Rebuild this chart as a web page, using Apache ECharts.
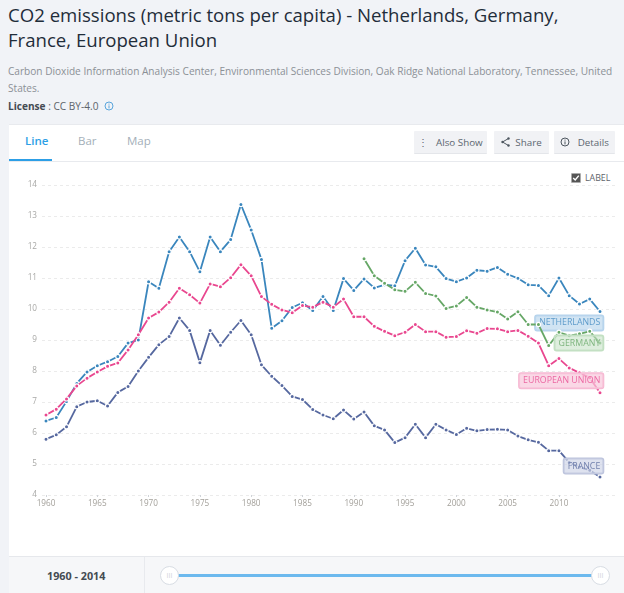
<!DOCTYPE html>
<html><head><meta charset="utf-8">
<script src="https://cdn.jsdelivr.net/npm/echarts@6/dist/echarts.min.js"></script>
<style>
html,body{margin:0;padding:0;width:624px;height:593px;overflow:hidden;background:#f1f3f7;font-family:"Open Sans",sans-serif}
.a{position:absolute;white-space:nowrap}
#chart{position:absolute;left:0;top:0;width:624px;height:593px}
.btn{position:absolute;top:131px;height:23px;line-height:23px;background:#f1f2f5;border-bottom:1px solid #e4e6ea;color:#5c6670;font-size:9.8px;text-align:center;border-radius:1px;box-sizing:border-box}
</style></head><body>
<div class="a" style="left:8px;top:2px;font-size:18.6px;line-height:25px;color:#1f2d3a">CO2 emissions (metric tons per capita) - Netherlands, Germany,<br>France, European Union</div>
<div class="a" style="left:8px;top:63px;font-size:10.1px;line-height:17px;color:#8b9096">Carbon Dioxide Information Analysis Center, Environmental Sciences Division, Oak Ridge National Laboratory, Tennessee, United<br>States.</div>
<div class="a" style="left:8px;top:99px;font-size:10.1px;line-height:15px;color:#5d646b"><b style="color:#444b52">License</b> : CC BY-4.0 &nbsp;<svg width="10" height="10" viewBox="0 0 10 10" style="vertical-align:-1px"><circle cx="5" cy="5" r="4" fill="none" stroke="#5aa5dc" stroke-width="1"/><path d="M5 4.4V7.4M5 2.6V3.6" stroke="#5aa5dc"/></svg></div>
<div class="a" style="left:9px;top:124px;width:615px;height:469px;background:#fff;border-top:1px solid #e8eaee;box-sizing:border-box"></div>
<div class="a" style="left:9px;top:161px;width:615px;height:1px;background:#e8eaee"></div>
<div class="a" style="left:9px;top:159px;width:43px;height:2px;background:#2d9fe6"></div>
<div class="a" style="left:25px;top:133px;font-size:11.5px;line-height:16px;color:#2d9fe6;font-weight:600">Line</div>
<div class="a" style="left:78px;top:133px;font-size:11.5px;line-height:16px;color:#a4afb9">Bar</div>
<div class="a" style="left:127px;top:133px;font-size:11.5px;line-height:16px;color:#a4afb9">Map</div>
<div class="btn" style="left:414px;width:73px">⋮ &nbsp;&nbsp;Also Show</div>
<div class="btn" style="left:494px;width:55px"><svg width="9" height="10" viewBox="0 0 9 10" style="vertical-align:-1px"><path d="M7.5 1.5L1.5 5L7.5 8.5" fill="none" stroke="#4d565f"/><circle cx="7.5" cy="1.5" r="1.2" fill="#4d565f"/><circle cx="1.5" cy="5" r="1.2" fill="#4d565f"/><circle cx="7.5" cy="8.5" r="1.2" fill="#4d565f"/></svg> &nbsp;Share</div>
<div class="btn" style="left:554px;width:61px"><svg width="10" height="10" viewBox="0 0 10 10" style="vertical-align:-1px"><circle cx="5" cy="5" r="4" fill="none" stroke="#4d565f"/><path d="M5 4.4V7.4M5 2.6V3.6" stroke="#4d565f"/></svg> &nbsp;&nbsp;Details</div>
<div class="a" style="left:571px;top:173px;width:10px;height:10px;background:#555;border-radius:1px;border:1px solid #aaa;box-sizing:border-box"><svg width="8" height="8" viewBox="0 0 8 8" style="display:block"><path d="M1.2 4L3.2 6L6.8 1.6" fill="none" stroke="#fff" stroke-width="1.4"/></svg></div>
<div class="a" style="left:585px;top:172px;font-size:8.8px;line-height:12px;color:#5d646b">LABEL</div>
<div id="chart"></div>
<div class="a" style="left:9px;top:556px;width:615px;height:37px;background:#f6f7f9;border-top:1px solid #e6e8ec;box-sizing:border-box"></div>
<div class="a" style="left:144px;top:557px;width:1px;height:36px;background:#e8eaee"></div>
<div class="a" style="left:47px;top:568px;font-size:10.8px;line-height:15px;font-weight:700;color:#444b52">1960 - 2014</div>
<div class="a" style="left:170px;top:574px;width:430px;height:3px;background:#6cb9ee"></div>
<div class="a" style="left:160px;top:566px;width:19px;height:19px;border-radius:50%;background:#fff;border:1px solid #d8dde4;box-sizing:border-box;text-align:center;font-size:7px;line-height:17px;color:#d0d4da">III</div>
<div class="a" style="left:591px;top:566px;width:19px;height:19px;border-radius:50%;background:#fff;border:1px solid #d8dde4;box-sizing:border-box;text-align:center;font-size:7px;line-height:17px;color:#d0d4da">III</div>
<script>
const years = [];
for (let y = 1960; y <= 2014; y++) years.push(String(y));
const yTicks = [4,5,6,7,8,9,10,11,12,13,14];
const netherlands = [6.39,6.5,7.02,7.6,7.97,8.17,8.3,8.47,8.9,9.0,10.88,10.67,11.85,12.32,11.85,11.2,12.32,11.85,12.24,13.37,12.55,11.6,9.38,9.62,10.05,10.2,9.95,10.4,9.95,10.98,10.6,10.97,10.68,10.78,10.75,11.56,11.96,11.42,11.36,10.98,10.88,11.0,11.25,11.22,11.34,11.12,10.99,10.78,10.76,10.43,11.0,10.43,10.16,10.32,9.92];
const germany = [null,null,null,null,null,null,null,null,null,null,null,null,null,null,null,null,null,null,null,null,null,null,null,null,null,null,null,null,null,null,null,11.62,11.07,10.83,10.62,10.57,10.86,10.5,10.42,10.02,10.1,10.37,10.06,9.97,9.9,9.68,9.91,9.5,9.5,8.82,9.25,9.14,9.2,9.28,8.9];
const europeanUnion = [6.58,6.77,7.1,7.52,7.77,7.97,8.15,8.26,8.68,9.17,9.71,9.9,10.22,10.67,10.46,10.19,10.81,10.72,11.01,11.43,11.07,10.4,10.15,9.97,9.88,10.11,10.06,10.22,10.06,10.32,9.75,9.75,9.44,9.28,9.14,9.25,9.5,9.27,9.27,9.09,9.11,9.3,9.22,9.37,9.36,9.27,9.31,9.12,8.9,8.17,8.4,8.1,7.94,7.78,7.3];
const france = [5.8,5.94,6.2,6.85,7.0,7.04,6.87,7.31,7.5,8.0,8.44,8.85,9.11,9.71,9.31,8.27,9.31,8.83,9.25,9.63,9.17,8.2,7.83,7.53,7.18,7.08,6.76,6.58,6.46,6.74,6.45,6.68,6.23,6.1,5.69,5.85,6.28,5.85,6.28,6.1,5.95,6.15,6.07,6.11,6.12,6.1,5.9,5.78,5.7,5.43,5.43,5.05,4.9,4.8,4.58];
const seriesNames = ['NETHERLANDS','GERMANY','EUROPEAN UNION','FRANCE'];
const seriesColors = ['#3a86bd','#66a766','#e9478f','#56689f'];
const labelText = ['#5f9ccb','#7fb67f','#ec68a3','#7382ae'];
const labelFill = ['rgba(190,216,238,.7)','rgba(200,226,200,.6)','rgba(248,200,220,.7)','rgba(205,210,230,.65)'];
const labelEdge = ['#b5d3ec','#c2e0c2','#f6b8d2','#bcc3dc'];
const labelShift = [[6,11.5],[6,0],[6,-12],[6,-11]];

function mk(name, vals, i){
  const n = vals.length - 1;
  return {
    type:'line', name, xAxisIndex:0, yAxisIndex:0, z:3+i, animation:false,
    symbol:'circle', symbolSize:4.2, showAllSymbol:true, connectNulls:false,
    lineStyle:{color:seriesColors[i],width:1.8},
    itemStyle:{color:seriesColors[i],borderColor:'#fff',borderWidth:1.2},
    data: vals.map((v,k)=> k===n ? {value:v,label:{show:true,position:'left',distance:0,offset:labelShift[i],formatter:name,
      color:labelText[i],fontSize:8.8,fontFamily:'Open Sans',padding:[3,3,3,4],backgroundColor:labelFill[i],
      borderColor:labelEdge[i],borderWidth:1,borderRadius:2}} : v)
  };
}
const chart = echarts.init(document.getElementById('chart'),null,{renderer:'canvas'});
chart.setOption({
  backgroundColor:'transparent',
  grid:[{left:46,right:24,top:185,bottom:98},{left:42,right:9,top:185,bottom:98}],
  xAxis:[
    {type:'category',gridIndex:0,data:years,boundaryGap:false,
     axisLine:{show:false},
     axisTick:{show:true,interval:4,length:2,lineStyle:{color:'#cfd3d8'}},
     axisLabel:{interval:4,color:'#a3a09a',fontSize:8.2,fontFamily:'Open Sans',margin:5},
     splitLine:{show:false}},
    {type:'value',gridIndex:1,show:false,min:0,max:1,splitLine:{show:false}}
  ],
  yAxis:[
    {type:'value',gridIndex:0,min:yTicks[0],max:yTicks[yTicks.length-1],interval:1,show:false},
    {type:'value',gridIndex:1,min:yTicks[0],max:yTicks[yTicks.length-1],interval:1,
     axisLine:{show:false},axisTick:{show:false},
     axisLabel:{color:'#a8a8a6',fontSize:8.2,fontFamily:'Open Sans',margin:5,verticalAlignMinLabel:'middle',verticalAlignMaxLabel:'middle'},
     splitLine:{show:true,showMinLine:true,showMaxLine:true,lineStyle:{color:'#ebebeb',type:[3,3],width:1}}}
  ],
  series:[mk(seriesNames[0],netherlands,0),mk(seriesNames[1],germany,1),mk(seriesNames[2],europeanUnion,2),mk(seriesNames[3],france,3)]
});
</script>
</body></html>
